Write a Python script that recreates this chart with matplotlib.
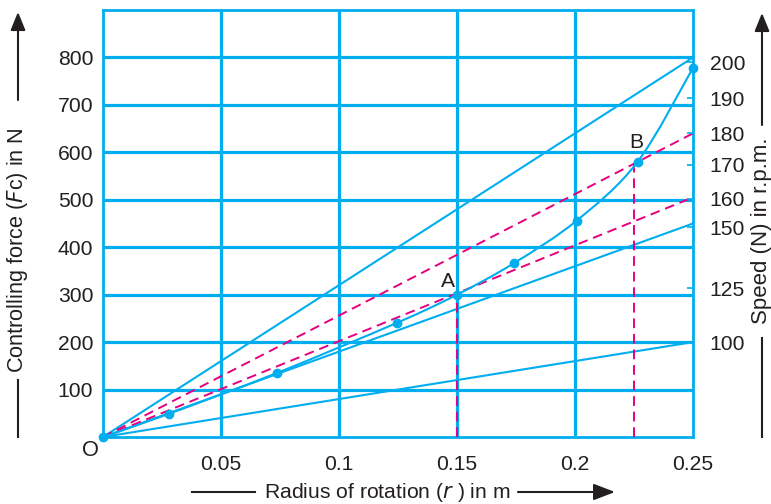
import matplotlib
matplotlib.use("Agg")
import matplotlib.pyplot as plt
from matplotlib.path import Path
from matplotlib.patches import PathPatch, FancyArrowPatch
import numpy as np

plt.rcParams['font.family'] = ['Liberation Sans', 'DejaVu Sans']

# ---- data ----
curve_r = [0.0, 0.028, 0.0737, 0.1247, 0.150, 0.174, 0.2007, 0.2265, 0.250]
curve_F = [0, 49, 135, 241, 300, 366, 456, 580, 778]

solid_end_F = [800, 450, 200]      # speed lines 200, 150, 100 rpm at r = 0.25
dashed_end_F = [640, 505]          # speed lines through B and A at r = 0.25
r_end = 0.25

vert_r = [0.150, 0.225]
vert_F = [300, 580]
point_labels = ['A', 'B']
label_r = [0.146, 0.226]
label_F = [328, 620]

speed_labels = ['200', '190', '180', '170', '160', '150', '125', '100']
speed_pos = [790, 714, 640, 574, 502, 442, 314, 199]

xticks = [0.05, 0.1, 0.15, 0.2, 0.25]
xticklabels = ['0.05', '0.1', '0.15', '0.2', '0.25']
yticks = [100, 200, 300, 400, 500, 600, 700, 800]

CYAN = '#00AEEF'
MAG = '#E6007E'
TXT = '#231F20'
FS = 15.2

fig = plt.figure(figsize=(7.71, 5.04), dpi=100)
ax = fig.add_axes([103/771, 1-437/504, 590/771, 427/504])
ax.set_xlim(0, 0.25)
ax.set_ylim(0, 900)

# grid
for x in [0.05, 0.1, 0.15, 0.2]:
    ax.axvline(x, color=CYAN, lw=2.3, zorder=1)
for y in yticks:
    ax.axhline(y, color=CYAN, lw=2.3, zorder=1)

for s in ax.spines.values():
    s.set_color(CYAN)
    s.set_linewidth(2.0)

# solid speed lines
for f in solid_end_F:
    ax.plot([0, r_end], [0, f], color=CYAN, lw=1.5, zorder=3)
# dashed speed lines
for f in dashed_end_F:
    ax.plot([0, r_end], [0, f], color=MAG, lw=1.4, ls=(0, (5, 3)), zorder=3)
# vertical dashed lines
for r, f in zip(vert_r, vert_F):
    ax.plot([r, r], [0, f], color=MAG, lw=1.4, ls=(0, (5, 3)), zorder=3)

# smooth curve (Catmull-Rom through data points)
P = np.column_stack([curve_r, curve_F]).astype(float)
n = len(P)
verts = [P[0]]
codes = [Path.MOVETO]
for i in range(n - 1):
    p0 = P[i - 1] if i > 0 else P[i]
    p1 = P[i]
    p2 = P[i + 1]
    p3 = P[i + 2] if i + 2 < n else P[i + 1]
    c1 = p1 + (p2 - p0) / 6.0
    c2 = p2 - (p3 - p1) / 6.0
    verts += [c1, c2, p2]
    codes += [Path.CURVE4] * 3
ax.add_patch(PathPatch(Path(verts, codes), fill=False, edgecolor=CYAN, lw=1.5, zorder=4))
ax.plot(curve_r, curve_F, 'o', color=CYAN, ms=6, zorder=5, clip_on=False)

for t, r, f in zip(point_labels, label_r, label_F):
    ax.text(r, f, t, fontsize=FS, color=TXT, ha='center', va='center', zorder=6)

# ticks
ax.set_xticks(xticks)
ax.set_xticklabels(xticklabels)
ax.set_yticks(yticks)
ax.tick_params(axis='both', length=0, labelsize=FS, labelcolor=TXT)
ax.tick_params(axis='x', pad=13)
ax.tick_params(axis='y', pad=7)

ax2 = ax.twinx()
ax2.set_ylim(0, 900)
ax2.set_yticks(speed_pos)
ax2.set_yticklabels(speed_labels)
ax2.tick_params(axis='y', direction='in', length=4, width=1.2, color=CYAN,
                labelsize=FS, labelcolor=TXT, pad=12)
for s in ax2.spines.values():
    s.set_visible(False)

# origin label
fig.text(90/771, 1-451/504, 'O', fontsize=FS + 0.5, color=TXT, ha='center', va='center')

def fx(px):
    return px / 771
def fy(py):
    return 1 - py / 504

# axis titles
fig.text(fx(18), fy(250), r'Controlling force ($\it{F}$c) in N', fontsize=15.6, color=TXT,
         rotation=90, ha='center', va='center')
fig.text(fx(762), fy(231), 'Speed (N) in r.p.m.', fontsize=16, color=TXT,
         rotation=90, ha='center', va='center')
fig.text(fx(387), fy(492), r'Radius of rotation ($\it{r}$ ) in m', fontsize=15.2, color=TXT,
         ha='center', va='center')

ast = '-|>,head_length=11,head_width=4.5'
# left arrow (up) and line
fig.add_artist(FancyArrowPatch((fx(18), fy(100)), (fx(18), fy(12)), transform=fig.transFigure,
                               arrowstyle=ast, color=TXT, lw=1.5, shrinkA=0, shrinkB=0))
fig.add_artist(plt.Line2D([fx(18), fx(18)], [fy(380), fy(437)], transform=fig.transFigure, color=TXT, lw=1.5))
# right arrow (up) and line
fig.add_artist(FancyArrowPatch((fx(762), fy(125)), (fx(762), fy(13)), transform=fig.transFigure,
                               arrowstyle=ast, color=TXT, lw=1.5, shrinkA=0, shrinkB=0))
fig.add_artist(plt.Line2D([fx(762), fx(762)], [fy(338), fy(437)], transform=fig.transFigure, color=TXT, lw=1.5))
# bottom line and arrow (right)
fig.add_artist(plt.Line2D([fx(192), fx(255)], [fy(492), fy(492)], transform=fig.transFigure, color=TXT, lw=1.5))
fig.add_artist(FancyArrowPatch((fx(518), fy(492)), (fx(615), fy(492)), transform=fig.transFigure,
                               arrowstyle='-|>,head_length=13,head_width=5', color=TXT, lw=1.5,
                               shrinkA=0, shrinkB=0))

fig.savefig('out.png', dpi=100)
